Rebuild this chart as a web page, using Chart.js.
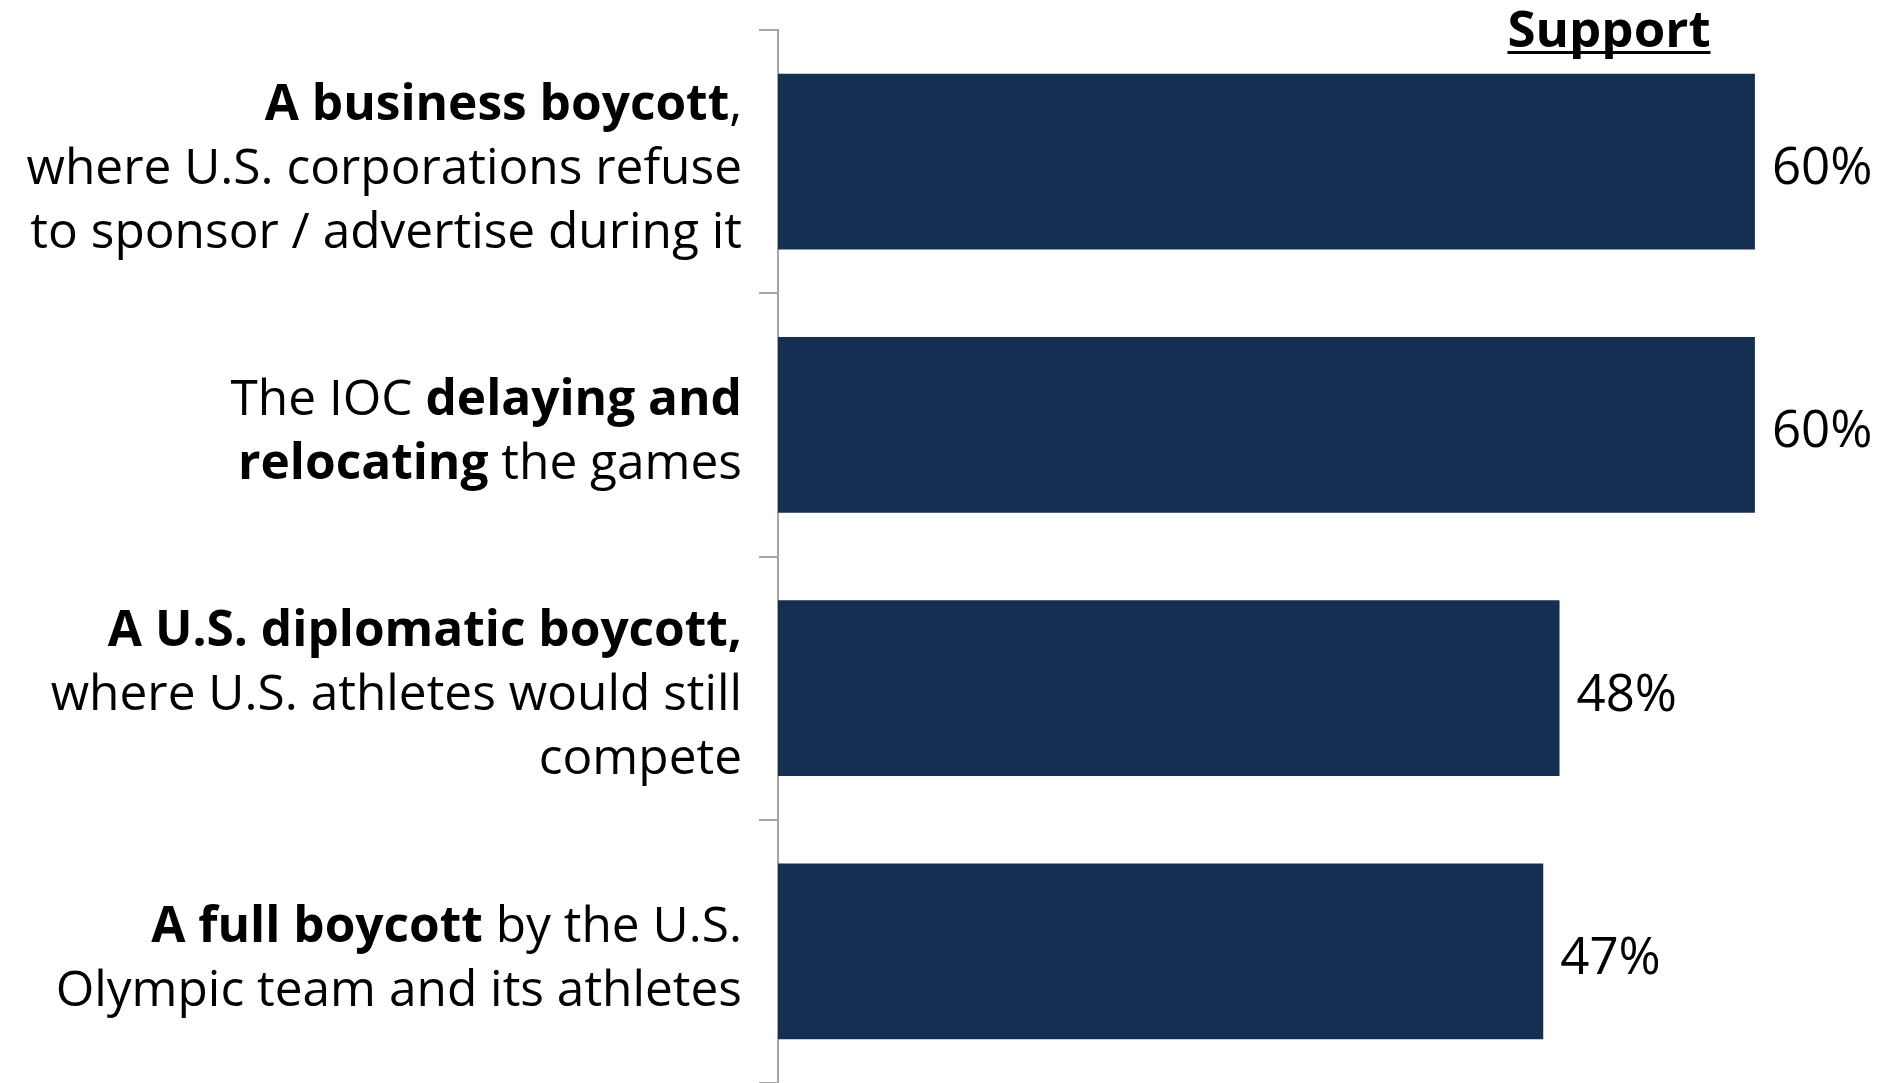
<!DOCTYPE html>
<html>
<head>
<meta charset="utf-8">
<script src="https://cdn.jsdelivr.net/npm/chart.js@4/dist/chart.umd.min.js"></script>
<style>
  html, body { margin: 0; padding: 0; background: #fff; }
  #wrap { width: 1878px; height: 1083px; position: relative; }
</style>
</head>
<body>
<div id="wrap"><canvas id="myChart"></canvas></div>
<script>
// data
let categories = [
  "A business boycott, where U.S. corporations refuse to sponsor / advertise during it",
  "The IOC delaying and relocating the games",
  "A U.S. diplomatic boycott, where U.S. athletes would still compete",
  "A full boycott by the U.S. Olympic team and its athletes",
];
let support = [60, 60, 48, 47];
let seriesName = "Support";

// label lines, [text, bold]
let labelLines = [
  [[["A business boycott", true], [",", false]],
   [["where U.S. corporations refuse", false]],
   [["to sponsor / advertise during it", false]]],
  [[["The IOC ", false], ["delaying and", true]],
   [["relocating", true], [" the games", false]]],
  [[["A U.S. diplomatic boycott,", true]],
   [["where U.S. athletes would still", false]],
   [["compete", false]]],
  [[["A full boycott", true], [" by the U.S.", false]],
   [["Olympic team and its athletes", false]]],
];

let fontFam = "'Open Sans', 'Noto Sans', sans-serif";
let fontSize = 49.6;
let lineH = 64;

let labelsPlugin = {
  id: "labelsPlugin",
  afterDraw(chart) {
    let ctx = chart.ctx;
    let meta = chart.getDatasetMeta(0);
    ctx.save();
    ctx.fillStyle = "#000";
    ctx.textBaseline = "middle";

    // category labels
    let right = 742;
    meta.data.forEach((bar, i) => {
      let lines = labelLines[i];
      let y0 = bar.y - ((lines.length - 1) * lineH) / 2 + 8;
      lines.forEach((parts, j) => {
        let w = 0;
        parts.forEach((p) => {
          ctx.font = (p[1] ? "bold " : "") + fontSize + "px " + fontFam;
          w += ctx.measureText(p[0]).width;
        });
        let x = right - w;
        ctx.textAlign = "left";
        parts.forEach((p) => {
          ctx.font = (p[1] ? "bold " : "") + fontSize + "px " + fontFam;
          ctx.fillText(p[0], x, y0 + j * lineH);
          x += ctx.measureText(p[0]).width;
        });
      });
    });

    // value labels
    ctx.font = "51px " + fontFam;
    ctx.textAlign = "left";
    meta.data.forEach((bar, i) => {
      ctx.fillText(support[i] + "%", bar.x + 17, bar.y + 8);
    });

    // header
    ctx.font = "bold 51px " + fontFam;
    ctx.textAlign = "center";
    ctx.textBaseline = "alphabetic";
    let cx = 1609;
    ctx.fillText(seriesName, cx, 47);
    let tw = ctx.measureText(seriesName).width;
    ctx.fillRect(cx - tw / 2, 51, tw, 3);
    ctx.restore();
  },
};

new Chart("myChart", {
  type: "bar",
  data: {
    labels: categories,
    datasets: [
      {
        label: seriesName,
        data: support,
        backgroundColor: "#152f52",
        categoryPercentage: 1,
        barPercentage: 0.668,
      },
    ],
  },
  options: {
    indexAxis: "y",
    responsive: true,
    maintainAspectRatio: false,
    animation: false,
    layout: { padding: { top: 30, left: 0, right: 0, bottom: 0 } },
    plugins: {
      legend: { display: false },
      tooltip: { enabled: false },
    },
    scales: {
      x: { display: false, min: 0, max: 67.56 },
      y: {
        grid: {
          offset: true,
          drawOnChartArea: false,
          tickLength: 19,
          color: "#a6a6a6",
          lineWidth: 2,
        },
        border: { color: "#a6a6a6", width: 2 },
        ticks: { display: false },
        afterFit(scale) {
          scale.width = 778;
        },
      },
    },
  },
  plugins: [labelsPlugin],
});
</script>
</body>
</html>
